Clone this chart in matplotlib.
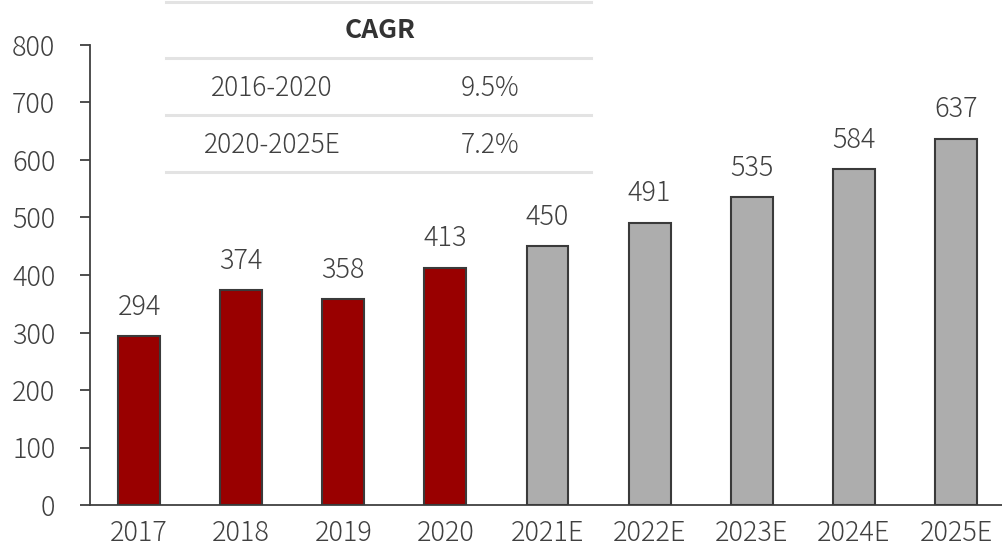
import matplotlib
matplotlib.use("Agg")
import matplotlib.pyplot as plt
from matplotlib.lines import Line2D

plt.rcParams['font.family'] = ['Noto Sans CJK JP', 'DejaVu Sans']
plt.rcParams['font.weight'] = 300

categories = ["2017", "2018", "2019", "2020", "2021E", "2022E", "2023E", "2024E", "2025E"]
values = [294, 374, 358, 413, 450, 491, 535, 584, 637]
is_forecast = [False, False, False, False, True, True, True, True, True]
yticks = [0, 100, 200, 300, 400, 500, 600, 700, 800]
cagr_header = "CAGR"
cagr_periods = ["2016-2020", "2020-2025E"]
cagr_values = ["9.5%", "7.2%"]

text_color = "#404040"
red = "#990000"
gray = "#ADADAD"
LW = 300

fig = plt.figure(figsize=(10.02, 5.46), dpi=100)
ax = fig.add_axes([90/1002, 1-505/546, 912/1002, 460/546])

x = list(range(len(categories)))
colors = [gray if f else red for f in is_forecast]
bars = ax.bar(x, values, width=0.41, color=colors, edgecolor="#3a3a3a", linewidth=1.5, zorder=3)
for xi, v in zip(x, values):
    ax.annotate(str(v), (xi, v), xytext=(0, 11), textcoords="offset points",
                ha="center", va="bottom", fontsize=19.5, color=text_color, fontweight=LW)

ax.set_ylim(0, 800)
ax.set_xlim(-0.48, 8.45)
ax.set_yticks(yticks)
ax.set_xticks(x)
ax.set_xticklabels(categories)
ax.tick_params(axis="y", direction="out", length=7, width=1.3, color="#404040",
               labelsize=19.5, labelcolor=text_color, pad=18)
ax.tick_params(axis="x", length=0, labelsize=19.5, labelcolor=text_color, pad=10)
for lab in ax.get_xticklabels() + ax.get_yticklabels():
    lab.set_fontweight(LW)
for s in ["top", "right"]:
    ax.spines[s].set_visible(False)
ax.spines["left"].set_color("#404040")
ax.spines["left"].set_linewidth(1.3)
ax.spines["bottom"].set_color("#404040")
ax.spines["bottom"].set_linewidth(1.3)

# CAGR table (figure pixel coords)
W, H = 1002, 546
def fx(px): return px / W
def fy(py): return 1 - py / H
for ly in [2, 58, 115, 172]:
    fig.add_artist(Line2D([fx(166), fx(591)], [fy(ly), fy(ly)], color="#E3E3E3", linewidth=2.2,
                          transform=fig.transFigure))
fig.text(fx(380), fy(31), cagr_header, ha="center", va="center", fontsize=19,
         fontweight="bold", color="#333333")
row_y = [88, 145]
for p, cv, ry in zip(cagr_periods, cagr_values, row_y):
    fig.text(fx(272), fy(ry), p, ha="center", va="center", fontsize=19, color=text_color,
             fontweight=LW)
    fig.text(fx(490), fy(ry), cv, ha="center", va="center", fontsize=19, color=text_color,
             fontweight=LW)

fig.savefig("out.png", dpi=100)
